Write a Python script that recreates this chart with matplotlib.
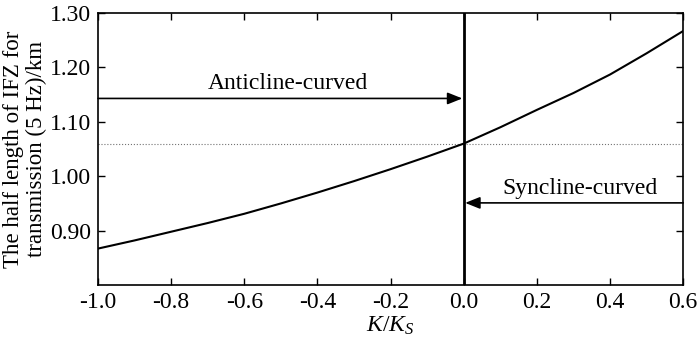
import numpy as np
import matplotlib
matplotlib.use("Agg")
from matplotlib import pyplot as plt

plt.rcParams['font.family'] = ['Liberation Serif', 'DejaVu Serif']
plt.rcParams['mathtext.fontset'] = 'custom'
plt.rcParams['mathtext.rm'] = 'Liberation Serif'
plt.rcParams['mathtext.it'] = 'Liberation Serif:italic'
plt.rcParams['axes.unicode_minus'] = False

### values
k_ratio = [-1.0, -0.9, -0.8, -0.7, -0.6, -0.5, -0.4, -0.3, -0.2, -0.1,
           0.0, 0.1, 0.2, 0.3, 0.4, 0.5, 0.6]
half_len = [0.867, 0.882, 0.898, 0.914, 0.931, 0.950, 0.970, 0.991, 1.013, 1.036,
            1.060, 1.090, 1.122, 1.153, 1.187, 1.226, 1.267]
ref_level = 1.06
anticline_y = 1.143
syncline_y = 0.951

xticks = [-1.0, -0.8, -0.6, -0.4, -0.2, 0.0, 0.2, 0.4, 0.6]
yticks = [0.90, 1.00, 1.10, 1.20, 1.30]

fontsize = 17

fig = plt.figure(figsize=(7, 3.43), dpi=100)
ax = fig.add_axes([0.14, 0.169, 0.836, 0.793])

ax.plot(k_ratio, half_len, color='black', lw=1.5, zorder=3)
ax.axhline(ref_level, color='0.45', lw=0.8, ls=':', zorder=1)
ax.axvline(0.0, color='black', lw=2.0, zorder=2)

### arrows
ax.annotate('', xy=(0.0, anticline_y), xytext=(-1.0, anticline_y),
            arrowprops=dict(arrowstyle='-|>,head_length=0.5,head_width=0.2',
                            color='black', lw=1.2,
                            mutation_scale=18, shrinkA=0, shrinkB=1))
ax.text(-0.48, anticline_y + 0.008, 'Anticline-curved', ha='center', va='bottom',
        fontsize=fontsize)

ax.annotate('', xy=(0.0, syncline_y), xytext=(0.6, syncline_y),
            arrowprops=dict(arrowstyle='-|>,head_length=0.5,head_width=0.2',
                            color='black', lw=1.2,
                            mutation_scale=18, shrinkA=0, shrinkB=1))
ax.text(0.317, syncline_y + 0.008, 'Syncline-curved', ha='center', va='bottom',
        fontsize=fontsize)

ax.set_xlim(-1.0, 0.6)
ax.set_ylim(0.8, 1.3)
ax.set_xticks(xticks)
ax.set_xticklabels([f'{v:.1f}' for v in xticks])
ax.set_yticks(yticks)
ax.set_yticklabels([f'{v:.2f}' for v in yticks])
ax.tick_params(axis='both', which='major', direction='in', length=5, width=1,
               top=True, right=True, labelsize=fontsize, pad=5)
for sp in ax.spines.values():
    sp.set_linewidth(1.2)

ax.set_xlabel('$K/K_S$', fontsize=fontsize, labelpad=1)
ax.set_ylabel('The half length of IFZ for\ntransmission (5 Hz)/km', fontsize=16.5,
              linespacing=1.1)
ax.yaxis.set_label_coords(-0.087, 0.5)

plt.savefig('out.png', dpi=100)
